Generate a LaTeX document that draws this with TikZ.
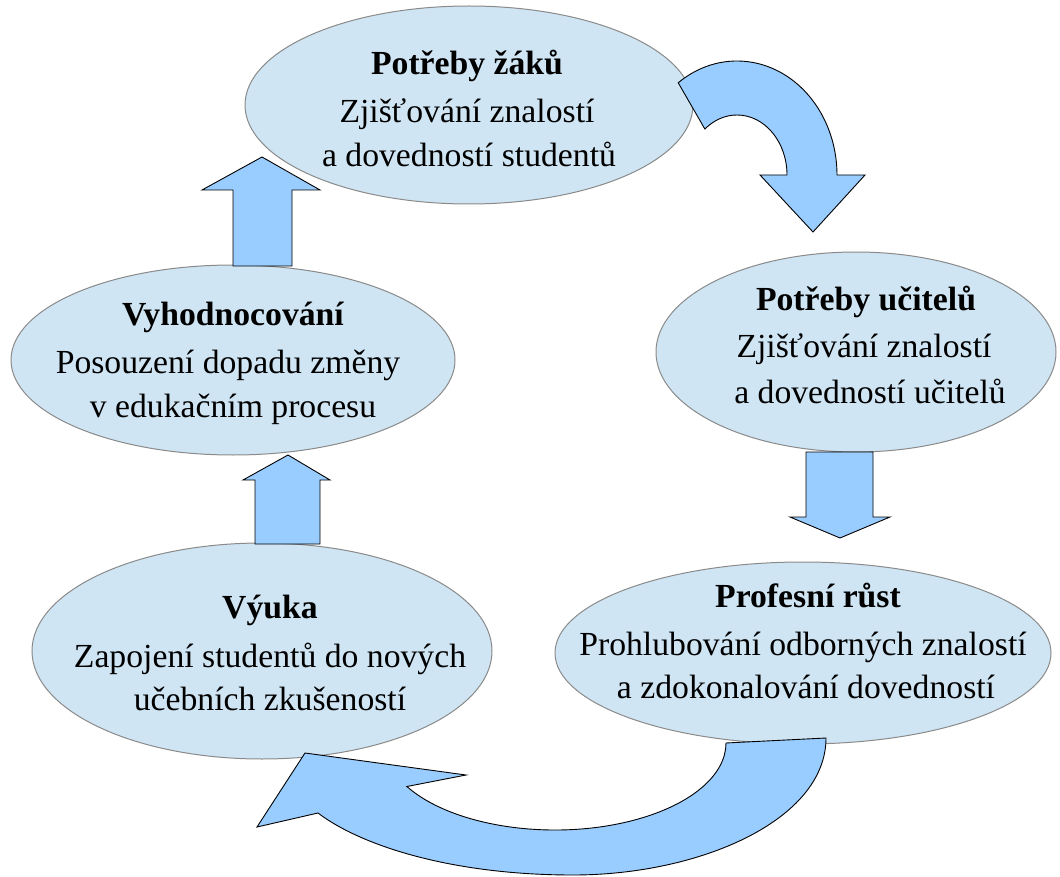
\documentclass[tikz,border=0pt]{standalone}
\usepackage{fontspec}
\setmainfont{Liberation Serif}
\usetikzlibrary{shapes.geometric}
\definecolor{ellfill}{HTML}{CFE5F3}
\definecolor{ellline}{HTML}{8A8A8A}
\definecolor{arrfill}{HTML}{99CCFF}
\begin{document}
\begin{tikzpicture}[x=1pt,y=-1pt,
  bubble/.style={ellipse, draw=ellline, fill=ellfill, line width=1pt, inner sep=0pt},
  ttl/.style={anchor=base, font=\fontsize{33.7}{40}\selectfont\bfseries, inner sep=0pt},
  txt/.style={anchor=base, font=\fontsize{33.7}{40}\selectfont, inner sep=0pt},
  blockarrow/.style={draw=black, fill=arrfill, line width=0.9pt, line join=miter}]
\useasboundingbox (0,0) rectangle (1060,877);
% ellipses
\node[bubble, minimum width=448pt, minimum height=198pt] (zaci) at (469,105) {};
\node[bubble, minimum width=400pt, minimum height=200pt] (ucitele) at (856,352) {};
\node[bubble, minimum width=444pt, minimum height=190pt] (vyhod) at (233,360) {};
\node[bubble, minimum width=460pt, minimum height=216pt] (vyuka) at (262,651) {};
\node[bubble, minimum width=496pt, minimum height=182pt] (profese) at (803,653) {};
% texts
\node[ttl] (zaci-t) at (467,75) {Potřeby žáků};
\node[txt] (zaci-a) at (467,123) {Zjišťování znalostí};
\node[txt] (zaci-b) at (469,167) {a dovedností studentů};
\node[ttl] (ucitele-t) at (866,310) {Potřeby učitelů};
\node[txt] (ucitele-a) at (864,357) {Zjišťování znalostí};
\node[txt] (ucitele-b) at (870,403) {a dovedností učitelů};
\node[ttl] (vyhod-t) at (233,325) {Vyhodnocování};
\node[txt] (vyhod-a) at (228,373) {Posouzení dopadu změny};
\node[txt] (vyhod-b) at (233,417) {v edukačním procesu};
\node[ttl] (vyuka-t) at (270,618) {Výuka};
\node[txt] (vyuka-a) at (270,667) {Zapojení studentů do nových};
\node[txt] (vyuka-b) at (270,710) {učebních zkušeností};
\node[ttl] (profese-t) at (808,607) {Profesní růst};
\node[txt] (profese-a) at (803,655) {Prohlubování odborných znalostí};
\node[txt] (profese-b) at (806,698) {a zdokonalování dovedností};
% block arrows
% zaci -> ucitele (curved)
\draw[blockarrow] (737,175) ++(-126:100 and 114)
  arc[start angle=-126, end angle=0, x radius=100, y radius=114]
  -- (865,175) -- (813,232) -- (760,175) -- (787,175)
  arc[start angle=0, end angle=-130, x radius=50, y radius=60] -- cycle;
% ucitele -> profese
\draw[blockarrow] (806,452) -- (806,517) -- (790,517) -- (840,538) -- (890,517) -- (873,517) -- (873,452) -- cycle;
% profese -> vyuka (curved)
\draw[blockarrow] (826,738) .. controls (826,820) and (700,875) .. (573,875)
  .. controls (450,875) and (360,845) .. (318,813)
  -- (257,827) -- (305,753) -- (466,775) -- (406.9,786.5)
  arc[start angle=150, end angle=0, x radius=171, y radius=87] -- cycle;
% vyuka -> vyhod
\draw[blockarrow] (255,544) -- (255,480) -- (243,480) -- (288,455) -- (330,480) -- (320,480) -- (320,544) -- cycle;
% vyhod -> zaci
\draw[blockarrow] (233,266) -- (233,190) -- (202,190) -- (262,157) -- (320,190) -- (292,190) -- (292,266) -- cycle;
\end{tikzpicture}
\end{document}
